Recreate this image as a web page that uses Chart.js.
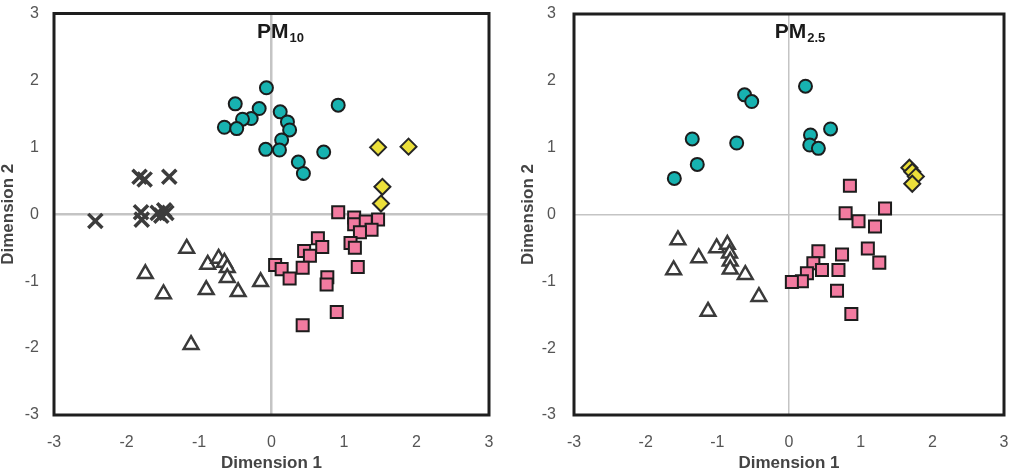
<!DOCTYPE html>
<html>
<head>
<meta charset="utf-8">
<script src="https://cdn.jsdelivr.net/npm/chart.js@4/dist/chart.umd.min.js"></script>
<style>
  body { margin: 0; background: #fff; }
  #pm10 { position: absolute; left: 0; top: 0; }
  #pm25 { position: absolute; left: 512px; top: 0; }
</style>
</head>
<body>
<canvas id="pm10" width="512" height="472"></canvas>
<canvas id="pm25" width="511" height="472"></canvas>
<script>
// data

const axisTicks = [-3, -2, -1, 0, 1, 2, 3];

// PM10
const pm10Circles = [[-0.07, 1.89], [-0.50, 1.65], [0.92, 1.63], [-0.17, 1.58], [0.12, 1.53], [-0.28, 1.43],
  [-0.40, 1.42], [0.22, 1.38], [-0.65, 1.30], [-0.48, 1.28], [0.25, 1.26], [0.14, 1.11], [-0.08, 0.97],
  [0.11, 0.96], [0.72, 0.93], [0.37, 0.78], [0.44, 0.61]];
const pm10Diamonds = [[1.47, 1.00], [1.89, 1.01], [1.53, 0.41], [1.51, 0.16]];
const pm10Crosses = [[-2.43, -0.10], [-1.82, 0.56], [-1.75, 0.52], [-1.41, 0.56], [-1.80, 0.03],
  [-1.79, -0.08], [-1.57, 0.02], [-1.52, -0.02], [-1.48, 0.06], [-1.45, 0.02]];
const pm10Triangles = [[-1.17, -0.51], [-1.74, -0.89], [-1.49, -1.19], [-0.88, -0.75], [-0.73, -0.66],
  [-0.65, -0.72], [-0.61, -0.80], [-0.61, -0.95], [-0.90, -1.13], [-0.46, -1.16], [-0.15, -1.01], [-1.11, -1.95]];
const pm10Squares = [[0.92, 0.03], [1.14, -0.05], [1.14, -0.15], [1.30, -0.11], [1.47, -0.08], [1.38, -0.23],
  [1.22, -0.27], [0.64, -0.36], [0.70, -0.49], [0.45, -0.55], [0.53, -0.62], [0.43, -0.80], [0.05, -0.76],
  [0.14, -0.82], [0.25, -0.96], [0.77, -0.94], [0.76, -1.05], [1.09, -0.43], [1.15, -0.50], [1.19, -0.79],
  [0.90, -1.46], [0.43, -1.66]];

// PM2.5
const pm25Circles = [[0.23, 1.92], [-0.62, 1.79], [-0.52, 1.69], [0.58, 1.28], [-1.35, 1.13], [-0.73, 1.07],
  [0.30, 1.19], [0.29, 1.04], [0.41, 0.99], [-1.28, 0.75], [-1.60, 0.54]];
const pm25Diamonds = [[1.68, 0.70], [1.72, 0.64], [1.77, 0.57], [1.72, 0.46]];
const pm25Triangles = [[-1.55, -0.38], [-1.61, -0.83], [-1.26, -0.65], [-1.01, -0.50], [-0.86, -0.45],
  [-0.83, -0.58], [-0.82, -0.70], [-0.82, -0.82], [-0.61, -0.90], [-0.42, -1.23], [-1.13, -1.45]];
const pm25Squares = [[0.85, 0.43], [1.34, 0.09], [0.79, 0.02], [0.97, -0.10], [1.20, -0.18], [1.10, -0.51],
  [1.26, -0.72], [0.41, -0.55], [0.74, -0.60], [0.34, -0.73], [0.46, -0.83], [0.69, -0.83], [0.25, -0.88],
  [0.18, -1.00], [0.04, -1.01], [0.67, -1.14], [0.87, -1.49]];

const FONT = "'Liberation Sans', Arial, sans-serif";

function pts(arr) {
  return arr.map(p => ({ x: p[0], y: p[1] }));
}

const styles = {
  cross:    { pointStyle: 'crossRot', pointRadius: 10, pointBackgroundColor: '#3c3c3c', pointBorderColor: '#3c3c3c', pointBorderWidth: 3.5 },
  triangle: { pointStyle: 'triangle', pointRadius: 8.5, pointBackgroundColor: '#ffffff', pointBorderColor: '#3a3a3a', pointBorderWidth: 2.5 },
  circle:   { pointStyle: 'circle', pointRadius: 6.5, pointBackgroundColor: '#17b2b0', pointBorderColor: '#1c1c1c', pointBorderWidth: 2 },
  square:   { pointStyle: 'rect', pointRadius: 8.5, pointBackgroundColor: '#f27ba0', pointBorderColor: '#1c1c1c', pointBorderWidth: 2 },
  diamond:  { pointStyle: 'rectRot', pointRadius: 8, pointBackgroundColor: '#ece03a', pointBorderColor: '#262626', pointBorderWidth: 2 }
};

function ds(arr, kind) {
  return Object.assign({ data: pts(arr), pointHoverRadius: styles[kind].pointRadius }, styles[kind]);
}

// frame round the plot area + PM title with subscript
const panelPlugin = {
  id: 'panel',
  afterDraw(chart, args, opts) {
    const ctx = chart.ctx;
    const a = chart.chartArea;
    ctx.save();
    ctx.strokeStyle = '#1e1e1e';
    ctx.lineWidth = 3;
    ctx.strokeRect(a.left, a.top, a.right - a.left, a.bottom - a.top);

    const x = chart.scales.x.getPixelForValue(-0.2);
    const y = a.top + 24;
    ctx.fillStyle = '#1a1a1a';
    ctx.textBaseline = 'alphabetic';
    ctx.textAlign = 'left';
    ctx.font = 'bold 21px ' + FONT;
    ctx.fillText('PM', x, y);
    const w = ctx.measureText('PM').width;
    ctx.font = 'bold 13px ' + FONT;
    ctx.fillText(opts.sub, x + w + 1, y + 4);
    ctx.restore();
  }
};

function makeChart(id, datasets, sub, yWidth, yPad, yTitlePad, pad) {
  const zeroLine = {
    drawTicks: false,
    lineWidth: id === 'pm10' ? 2.5 : 1.5,
    color: (c) => (c.tick && c.tick.value === 0 ? '#c4c4c4' : 'rgba(0,0,0,0)')
  };
  return new Chart(document.getElementById(id), {
    type: 'scatter',
    data: { datasets: datasets },
    plugins: [panelPlugin],
    options: {
      responsive: false,
      animation: false,
      layout: { padding: pad },
      plugins: {
        legend: { display: false },
        tooltip: { enabled: false },
        panel: { sub: sub }
      },
      scales: {
        x: {
          min: -3, max: 3,
          afterBuildTicks: (s) => { s.ticks = axisTicks.map(v => ({ value: v })); },
          afterFit: (s) => { s.height = 57; s.paddingLeft = 0; s.paddingRight = 0; },
          border: { display: false },
          grid: zeroLine,
          ticks: { padding: 18, color: '#555', font: { family: FONT, size: 16 } },
          title: {
            display: true, text: 'Dimension 1', color: '#444',
            padding: 0, font: { family: FONT, size: 17, weight: 'bold', lineHeight: 1 }
          }
        },
        y: {
          min: -3, max: 3,
          afterBuildTicks: (s) => { s.ticks = axisTicks.map(v => ({ value: v })); },
          afterFit: (s) => { s.width = yWidth; s.paddingTop = 0; s.paddingBottom = 0; },
          border: { display: false },
          grid: zeroLine,
          ticks: { padding: yPad, color: '#555', font: { family: FONT, size: 16 } },
          title: {
            display: true, text: 'Dimension 2', color: '#444',
            padding: { top: yTitlePad, bottom: 0 }, font: { family: FONT, size: 17, weight: 'bold', lineHeight: 1 }
          }
        }
      }
    }
  });
}

makeChart('pm10', [
  ds(pm10Crosses, 'cross'),
  ds(pm10Triangles, 'triangle'),
  ds(pm10Circles, 'circle'),
  ds(pm10Squares, 'square'),
  ds(pm10Diamonds, 'diamond')
], '10', 54, 15, 0, { top: 11, right: 23, left: 0, bottom: 0 });

makeChart('pm25', [
  ds(pm25Triangles, 'triangle'),
  ds(pm25Circles, 'circle'),
  ds(pm25Squares, 'square'),
  ds(pm25Diamonds, 'diamond')
], '2.5', 62, 18, 8, { top: 14, right: 19, left: 0, bottom: 0 });
</script>
</body>
</html>
